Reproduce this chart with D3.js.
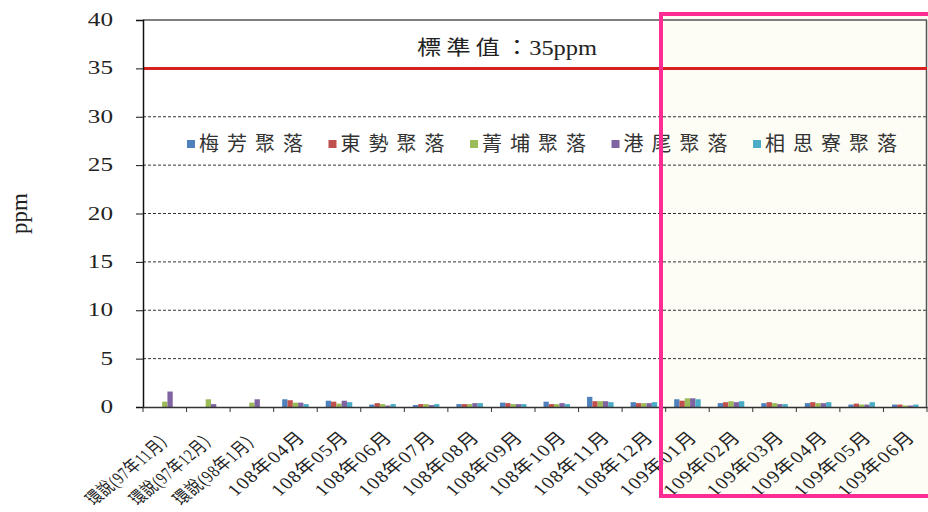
<!DOCTYPE html>
<html>
<head>
<meta charset="utf-8">
<script src="https://cdn.jsdelivr.net/npm/d3@7"></script>
<style>
  body { margin: 0; background: #fff; }
  svg { display: block; }
</style>
</head>
<body>
<div id="chart"></div>
<script>
const categories = [
    "環說(97年11月）", "環說(97年12月）", "環說(98年1月）",
    "108年04月", "108年05月", "108年06月", "108年07月", "108年08月", "108年09月",
    "108年10月", "108年11月", "108年12月",
    "109年01月", "109年02月", "109年03月", "109年04月", "109年05月", "109年06月"
];
const seriesNames = ["梅芳聚落", "東勢聚落", "菁埔聚落", "港尾聚落", "相思寮聚落"];
const meifang  = [null, null, null, 0.8, 0.65, 0.25, 0.2, 0.3, 0.45, 0.55, 1.05, 0.5, 0.8, 0.4, 0.4, 0.4, 0.25, 0.25];
const dongshi  = [null, null, null, 0.7, 0.55, 0.4, 0.3, 0.3, 0.4, 0.3, 0.6, 0.4, 0.65, 0.5, 0.5, 0.5, 0.35, 0.25];
const jingpu   = [0.55, 0.8, 0.45, 0.45, 0.35, 0.3, 0.3, 0.3, 0.3, 0.3, 0.6, 0.4, 0.9, 0.6, 0.4, 0.4, 0.25, 0.15];
const gangwei  = [1.6, 0.3, 0.8, 0.45, 0.65, 0.15, 0.2, 0.4, 0.3, 0.4, 0.6, 0.4, 0.9, 0.5, 0.3, 0.4, 0.25, 0.15];
const xiangsi  = [null, null, null, 0.3, 0.5, 0.3, 0.3, 0.4, 0.3, 0.3, 0.5, 0.5, 0.8, 0.6, 0.3, 0.5, 0.5, 0.25];
const yTicks = [0, 5, 10, 15, 20, 25, 30, 35, 40];
const standardValue = 35;
const standardName = "標準值";
const standardUnit = "：35ppm";
const yTitle = "ppm";

const seriesValues = [meifang, dongshi, jingpu, gangwei, xiangsi];
const colors = ["#4f81bd", "#c0504d", "#9bbb59", "#8064a2", "#4bacc6"];

const margin = { top: 20, right: 1, bottom: 105, left: 143 },
    width = 928 - margin.left - margin.right,
    height = 512 - margin.top - margin.bottom;

const svgRoot = d3.select("#chart")
    .append("svg")
    .attr("width", 928)
    .attr("height", 512);

// highlight box background (last six months)
svgRoot.append("rect")
    .attr("x", 661).attr("y", 14)
    .attr("width", 270).attr("height", 482)
    .attr("fill", "#fdfdf5");

const svg = svgRoot.append("g")
    .attr("transform", `translate(${margin.left},${margin.top})`);

const x = d3.scaleBand()
    .domain(categories)
    .range([0, width])
    .padding(0);

const xs = d3.scaleBand()
    .domain(seriesNames)
    .range([8.5, x.bandwidth() - 8.5]);

const y = d3.scaleLinear()
    .domain([0, 40])
    .range([height, 0]);

// dashed gridlines
svg.append("g")
    .selectAll("line")
    .data(yTicks.filter(d => d > 0 && d < 35))
    .enter()
    .append("line")
    .attr("x1", 0).attr("x2", width)
    .attr("y1", d => y(d)).attr("y2", d => y(d))
    .attr("stroke", "#333")
    .attr("stroke-width", 1)
    .attr("stroke-dasharray", "3,2");

// top and right frame
svg.append("line")
    .attr("x1", 0).attr("x2", width)
    .attr("y1", y(40)).attr("y2", y(40))
    .attr("stroke", "#555").attr("stroke-width", 1.5);
svg.append("line")
    .attr("x1", width - 0.5).attr("x2", width - 0.5)
    .attr("y1", y(40)).attr("y2", height)
    .attr("stroke", "#555").attr("stroke-width", 1.5);

// bars
const barData = [];
seriesValues.forEach((vals, si) => {
    vals.forEach((v, ci) => {
        if (v !== null) barData.push({ cat: categories[ci], series: seriesNames[si], value: v, si: si });
    });
});

svg.append("g")
    .selectAll("rect")
    .data(barData)
    .enter()
    .append("rect")
    .attr("x", d => x(d.cat) + xs(d.series))
    .attr("y", d => y(d.value))
    .attr("width", xs.bandwidth())
    .attr("height", d => y(0) - y(d.value))
    .attr("fill", d => colors[d.si]);

// standard line
svg.append("line")
    .attr("x1", 0).attr("x2", width)
    .attr("y1", y(standardValue)).attr("y2", y(standardValue))
    .attr("stroke", "#d7211e")
    .attr("stroke-width", 3);

const stdText = svg.append("text")
    .attr("transform", `translate(${507 - margin.left},${y(standardValue) - 13}) scale(1.22,1)`)
    .attr("text-anchor", "middle")
    .attr("font-family", "'Liberation Serif', 'Noto Sans CJK TC', serif")
    .attr("font-size", 20)
    .attr("fill", "#222");
stdText.append("tspan").attr("letter-spacing", 4).text(standardName);
stdText.append("tspan").text(standardUnit);

// y axis
const yAxis = svg.append("g")
    .call(d3.axisLeft(y).tickValues(yTicks).tickSize(7).tickFormat(""));
yAxis.select(".domain").attr("stroke", "#111").attr("stroke-width", 1.5);
yAxis.selectAll(".tick line").attr("stroke", "#111");

svg.append("g")
    .selectAll("text")
    .data(yTicks)
    .enter()
    .append("text")
    .attr("transform", d => `translate(${113 - margin.left},${y(d) + 6}) scale(1.4,1)`)
    .attr("text-anchor", "end")
    .attr("font-family", "'Liberation Serif', serif")
    .attr("font-size", 18)
    .attr("fill", "#222")
    .text(d => d);

// x axis
const xAxis = svg.append("g")
    .attr("transform", `translate(0,${height})`)
    .call(d3.axisBottom(x).tickSize(0).tickFormat(""));
xAxis.select(".domain").attr("stroke", "#333").attr("stroke-width", 1.5);

svg.append("g")
    .selectAll("line")
    .data(categories.concat(["__end"]))
    .enter()
    .append("line")
    .attr("x1", (d, i) => i * x.bandwidth())
    .attr("x2", (d, i) => i * x.bandwidth())
    .attr("y1", height).attr("y2", height + 5)
    .attr("stroke", "#333");

// rotated category labels, long ones squeezed so they stay on the page
const maxLabelLen = 96;
svg.append("g")
    .selectAll("text")
    .data(categories)
    .enter()
    .append("text")
    .attr("transform", d => `translate(${x(d) + x.bandwidth() / 2 + 11},${height + 31}) scale(1.2,1) rotate(-45)`)
    .attr("text-anchor", "end")
    .attr("font-family", "'Liberation Serif', 'Noto Sans CJK TC', serif")
    .attr("font-size", 17)
    .attr("letter-spacing", 1)
    .attr("fill", "#222")
    .text(d => d)
    .each(function () {
        if (this.getComputedTextLength() > maxLabelLen) {
            d3.select(this)
                .attr("textLength", maxLabelLen)
                .attr("lengthAdjust", "spacingAndGlyphs");
        }
    });

// y title
svgRoot.append("text")
    .attr("transform", `translate(27,${margin.top + y(20)}) rotate(-90)`)
    .attr("text-anchor", "middle")
    .attr("font-family", "'Liberation Serif', serif")
    .attr("font-size", 23)
    .attr("fill", "#222")
    .text(yTitle);

// legend
const legend = svg.append("g")
    .selectAll("g")
    .data(seriesNames)
    .enter()
    .append("g")
    .attr("transform", (d, i) => `translate(${187 - margin.left + i * 141.5},${140 - margin.top})`);
legend.append("rect")
    .attr("width", 8).attr("height", 8)
    .attr("fill", (d, i) => colors[i]);
legend.append("text")
    .attr("x", 12).attr("y", 11)
    .attr("font-family", "'Noto Sans CJK TC', sans-serif")
    .attr("font-size", 20)
    .attr("letter-spacing", 8)
    .attr("fill", "#333")
    .text(d => d);

// highlight box outline
svgRoot.append("rect")
    .attr("x", 661).attr("y", 14)
    .attr("width", 270).attr("height", 482)
    .attr("fill", "none")
    .attr("stroke", "#fe2c93")
    .attr("stroke-width", 4);
</script>
</body>
</html>
